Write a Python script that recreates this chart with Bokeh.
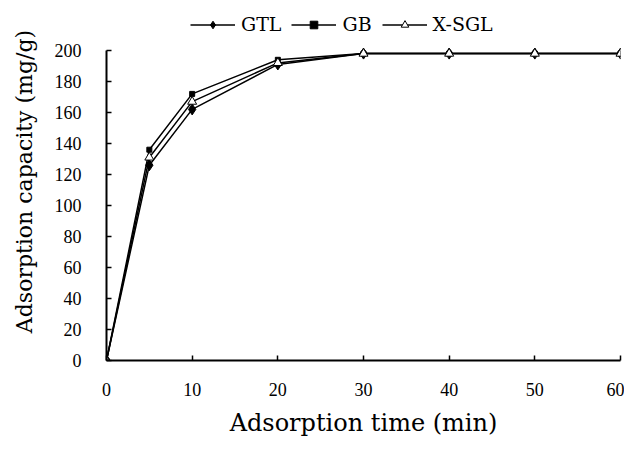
from bokeh.plotting import figure
from bokeh.models import Range1d, FixedTicker, Legend
from bokeh.embed import file_html
from bokeh.resources import INLINE

time_min = [0, 5, 10, 20, 30, 40, 50, 60]
gtl = [0, 126, 162, 191, 198, 198, 198, 198]
gb = [0, 136, 172, 194, 198, 198, 198, 198]
xsgl = [0, 131, 167, 192, 198, 198, 198, 198]
x_ticks = [0, 10, 20, 30, 40, 50, 60]
y_ticks = [0, 20, 40, 60, 80, 100, 120, 140, 160, 180, 200]

# frame extends above the 0-200 axis so the legend can sit in the top strip
FRAME_TOP, FRAME_BOTTOM, AXIS_TOP = 2, 360, 50
y_end = 200 * (FRAME_BOTTOM - FRAME_TOP) / (FRAME_BOTTOM - AXIS_TOP)

p = figure(width=624, height=440, output_backend="svg", toolbar_location=None,
           x_range=Range1d(0, 60), y_range=Range1d(0, y_end),
           min_border_left=106, min_border_right=4, min_border_top=FRAME_TOP,
           min_border_bottom=440 - FRAME_BOTTOM)
p.outline_line_color = None
p.xgrid.visible = False
p.ygrid.visible = False
p.background_fill_color = "white"
p.border_fill_color = "white"

SERIF = "DejaVu Serif"
for ax in (p.xaxis[0], p.yaxis[0]):
    ax.axis_line_width = 2
    ax.axis_line_color = "black"
    ax.major_tick_in = 5
    ax.major_tick_out = 0
    ax.major_tick_line_width = 1.5
    ax.minor_tick_line_color = None
    ax.major_label_text_font = "Liberation Serif"
    ax.major_label_text_font_size = "18px"
    ax.major_label_text_color = "black"
    ax.axis_label_text_font = SERIF
    ax.axis_label_text_font_style = "normal"
    ax.axis_label_text_color = "black"

p.yaxis[0].bounds = (0, 200)
p.xaxis[0].ticker = FixedTicker(ticks=x_ticks)
p.yaxis[0].ticker = FixedTicker(ticks=y_ticks)
p.xaxis[0].major_label_standoff = 22
p.yaxis[0].major_label_standoff = 25
p.xaxis[0].axis_label = "Adsorption time (min)"
p.xaxis[0].axis_label_text_font_size = "24px"
p.xaxis[0].axis_label_standoff = 10
p.yaxis[0].axis_label = "Adsorption capacity (mg/g)"
p.yaxis[0].axis_label_text_font_size = "22px"
p.yaxis[0].axis_label_standoff = 15

l1 = p.line(time_min, gtl, line_color="black", line_width=1.5)
m1 = p.scatter(time_min, gtl, marker="diamond", size=11, fill_color="black", line_color="black")
l2 = p.line(time_min, gb, line_color="black", line_width=1.5)
m2 = p.scatter(time_min, gb, marker="square", size=5, fill_color="black", line_color="black")
l3 = p.line(time_min, xsgl, line_color="black", line_width=1.5)
m3 = p.scatter(time_min, xsgl, marker="triangle", size=9, fill_color="white", line_color="black", line_width=1)

legend = Legend(items=[("GTL", [l1, m1]), ("GB", [l2, m2]), ("X-SGL", [l3, m3])],
                orientation="horizontal", location=(84, 325),
                glyph_width=45, glyph_height=19, label_standoff=6, spacing=10,
                padding=0, margin=0, background_fill_alpha=0, border_line_alpha=0,
                label_text_font=SERIF, label_text_font_size="19px", label_text_color="black")
p.add_layout(legend)

open("out.html", "w").write(file_html(p, INLINE))
